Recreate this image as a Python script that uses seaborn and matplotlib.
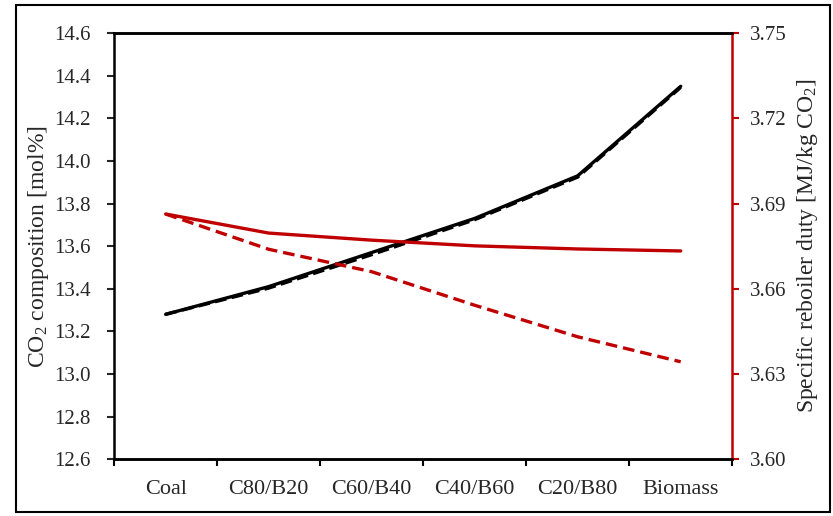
import pandas as pd
import matplotlib
matplotlib.use("Agg")
import matplotlib.pyplot as plt
from matplotlib.patches import Rectangle
from matplotlib.ticker import FixedLocator, FixedFormatter
import seaborn as sns

# Data
blends = ["Coal", "C80/B20", "C60/B40", "C40/B60", "C20/B80", "Biomass"]
co2_solid = [13.28, 13.41, 13.57, 13.73, 13.93, 14.35]
co2_dashed = [13.28, 13.403, 13.56, 13.724, 13.924, 14.345]
duty_solid = [3.6863, 3.6796, 3.6771, 3.6751, 3.6740, 3.6733]
duty_dashed = [3.6863, 3.6739, 3.6660, 3.6542, 3.6431, 3.6343]

left_ticks = [12.6, 12.8, 13.0, 13.2, 13.4, 13.6, 13.8, 14.0, 14.2, 14.4, 14.6]
right_ticks = [3.60, 3.63, 3.66, 3.69, 3.72, 3.75]

df = pd.DataFrame({
    "blend": blends,
    "co2_solid": co2_solid,
    "co2_dashed": co2_dashed,
    "duty_solid": duty_solid,
    "duty_dashed": duty_dashed,
})

sns.set_style("white")
plt.rcParams["font.family"] = ["Liberation Serif", "DejaVu Serif"]
plt.rcParams["mathtext.fontset"] = "custom"
plt.rcParams["mathtext.rm"] = "Liberation Serif"
plt.rcParams["mathtext.it"] = "Liberation Serif:italic"

red = "#C00000"
fs_y = 15
fs_x = 16
fs_lab = 17

fig = plt.figure(figsize=(8.33, 5.16), dpi=100)
ax = fig.add_axes([0.137, 0.110, 0.742, 0.826])
ax2 = ax.twinx()

sns.lineplot(data=df, x="blend", y="co2_solid", ax=ax, color="black", lw=2.4, sort=False)
sns.lineplot(data=df, x="blend", y="co2_dashed", ax=ax, color="black", lw=2.4,
             sort=False, linestyle=(0, (3.5, 1.6)))
sns.lineplot(data=df, x="blend", y="duty_solid", ax=ax2, color=red, lw=2.4, sort=False)
sns.lineplot(data=df, x="blend", y="duty_dashed", ax=ax2, color=red, lw=2.4,
             sort=False, linestyle=(0, (3.5, 1.8)))

# x axis: labels at category centres, tick marks between categories
ax.set_xlim(-0.5, len(blends) - 0.5)
ax.xaxis.set_major_locator(FixedLocator([i - 0.5 for i in range(len(blends) + 1)]))
ax.xaxis.set_major_formatter(FixedFormatter([""] * (len(blends) + 1)))
ax.xaxis.set_minor_locator(FixedLocator(list(range(len(blends)))))
ax.xaxis.set_minor_formatter(FixedFormatter(blends))
ax.tick_params(axis="x", which="major", direction="out", length=5, width=1.5, color="black", bottom=True)
ax.tick_params(axis="x", which="minor", length=0, labelsize=fs_x, pad=15, bottom=True)
ax.set_xlabel("")

ax.set_ylim(12.6, 14.6)
ax.set_yticks(left_ticks)
ax.set_yticklabels([f"{t:.1f}" for t in left_ticks], fontsize=fs_y)
ax.tick_params(axis="y", direction="out", length=5, width=1.5, left=True, pad=12)
ax.set_ylabel("CO$_2$ composition [mol%]", fontsize=fs_lab, labelpad=2)

ax2.set_ylim(3.60, 3.75)
ax2.set_yticks(right_ticks)
ax2.set_yticklabels([f"{t:.2f}" for t in right_ticks], fontsize=fs_y)
ax2.tick_params(axis="y", direction="out", length=5, width=1.5, color=red, right=True, pad=8)
ax2.set_ylabel("Specific reboiler duty [MJ/kg CO$_2$]", fontsize=fs_lab, labelpad=6)

for a in (ax, ax2):
    for s in a.spines.values():
        s.set_linewidth(1.8)
        s.set_color("black")
ax2.spines["right"].set_color(red)
ax.spines["right"].set_visible(False)
ax2.spines["left"].set_visible(False)

# outer frame around the figure
fig.patches.append(Rectangle((0.019, 0.008), 0.977, 0.982, transform=fig.transFigure,
                             fill=False, edgecolor="black", linewidth=1.5))

fig.savefig("out.png", dpi=100)
